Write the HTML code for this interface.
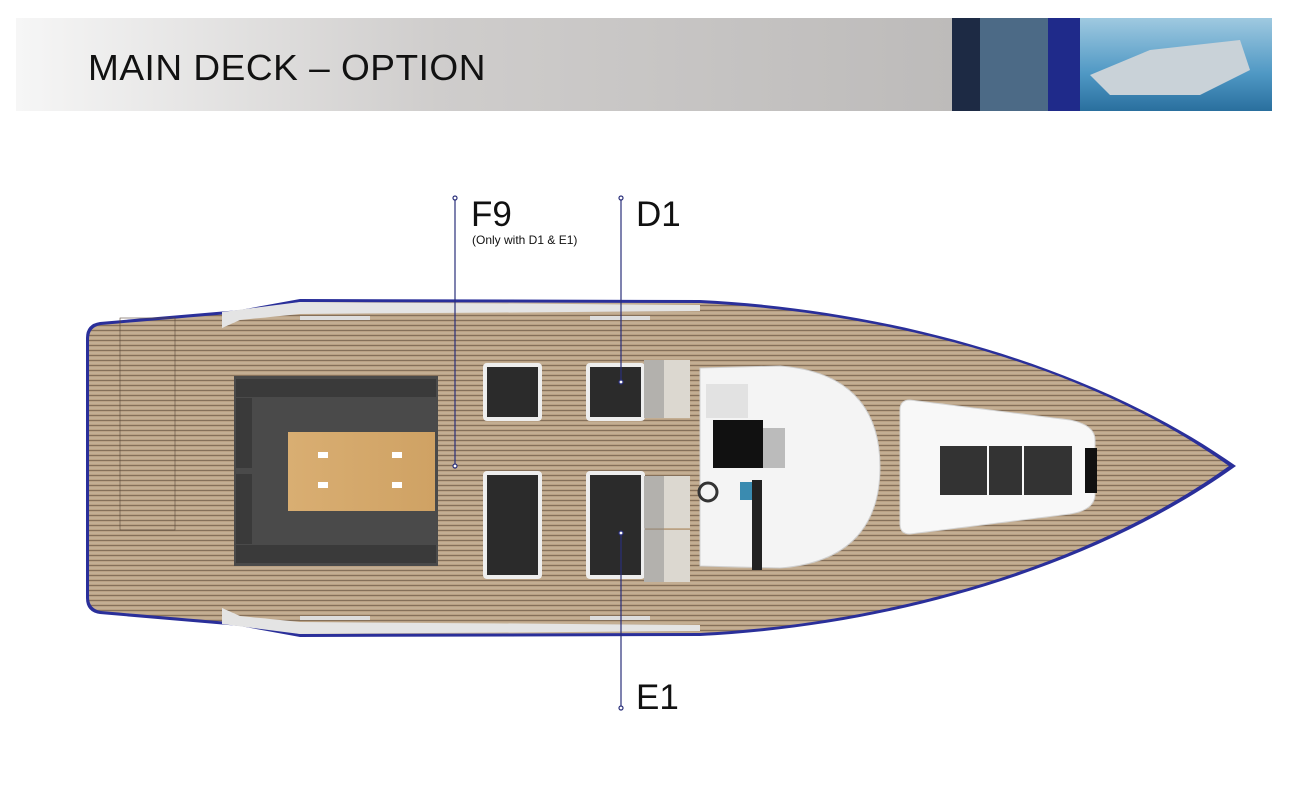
<!DOCTYPE html>
<html><head><meta charset="utf-8"><style>
html,body{margin:0;padding:0;background:#fff;width:1290px;height:800px;overflow:hidden}
</style></head><body>
<svg width="1290" height="800" viewBox="0 0 1290 800" xmlns="http://www.w3.org/2000/svg">
<defs>
<linearGradient id="hdr" x1="0" x2="1">
<stop offset="0" stop-color="#f6f6f6"/><stop offset="0.45" stop-color="#cfcdcc"/><stop offset="1" stop-color="#bdbbba"/>
</linearGradient>
<linearGradient id="sea" x1="0" y1="0" x2="0" y2="1">
<stop offset="0" stop-color="#9fc9e0"/><stop offset="0.6" stop-color="#4f98c4"/><stop offset="1" stop-color="#2a6f9e"/>
</linearGradient>
<pattern id="wood" width="10" height="5" patternUnits="userSpaceOnUse">
<rect width="10" height="5" fill="#b9a184"/>
<rect y="0" width="10" height="1" fill="#85705a"/>
<rect y="2.5" width="10" height="1" fill="#cdbba2"/>
</pattern>
<linearGradient id="tbl" x1="0" x2="1"><stop offset="0" stop-color="#d9ae72"/><stop offset="1" stop-color="#cfa264"/></linearGradient>
</defs>
<!-- header -->
<rect x="16" y="18" width="936" height="93" fill="url(#hdr)"/>
<rect x="952" y="18" width="128" height="93" fill="#1d2a44"/>
<rect x="980" y="18" width="70" height="93" fill="#4c6a86"/>
<rect x="1048" y="18" width="32" height="93" fill="#1f2a8a"/>
<rect x="1080" y="18" width="192" height="93" fill="url(#sea)"/>
<path d="M1090 75 L1150 50 L1240 40 L1250 70 L1200 95 L1110 95 Z" fill="#c9d2d8"/>
<text x="88" y="80" font-family="Liberation Sans, sans-serif" font-size="36" fill="#111" letter-spacing="0.5" textLength="398" lengthAdjust="spacingAndGlyphs">MAIN DECK – OPTION</text>

<!-- hull -->
<path d="M100 322 L240 310 L300 299 L700 300 C900 310 1100 370 1236 466 C1100 564 900 626 700 636 L300 637 L240 626 L100 614 Q86 612 86 598 L86 338 Q86 324 100 322 Z" fill="#2a2f9a"/>
<path d="M101 325 L240 313 L300 302 L700 303 C900 313 1097 371 1229 466 C1097 561 900 623 700 633 L300 634 L240 623 L101 611 Q89 609 89 597 L89 339 Q89 327 101 325 Z" fill="url(#wood)"/>
<!-- side rails -->
<path d="M222 312 L300 302 L700 305 L700 311 L300 314 L240 320 L222 328 Z" fill="#e4e4e4"/>
<path d="M222 624 L300 634 L700 631 L700 625 L300 622 L240 616 L222 608 Z" fill="#e4e4e4"/>
<rect x="300" y="316" width="70" height="4" fill="#ddd"/><rect x="590" y="316" width="60" height="4" fill="#ddd"/>
<rect x="300" y="616" width="70" height="4" fill="#ddd"/><rect x="590" y="616" width="60" height="4" fill="#ddd"/>
<!-- aft lines -->
<rect x="120" y="318" width="55" height="212" fill="none" stroke="#5a4a3a" stroke-width="0.6"/>
<!-- sofa -->
<rect x="234" y="376" width="204" height="190" fill="#4a4a4a"/>
<rect x="236" y="379" width="200" height="18" fill="#3a3a3a"/>
<rect x="236" y="545" width="200" height="18" fill="#3a3a3a"/>
<rect x="236" y="398" width="16" height="70" fill="#3a3a3a"/>
<rect x="236" y="474" width="16" height="70" fill="#3a3a3a"/>
<rect x="288" y="432" width="147" height="79" fill="url(#tbl)"/>
<rect x="318" y="452" width="10" height="6" fill="#fff"/><rect x="392" y="452" width="10" height="6" fill="#fff"/>
<rect x="318" y="482" width="10" height="6" fill="#fff"/><rect x="392" y="482" width="10" height="6" fill="#fff"/>
<!-- tables -->
<rect x="483" y="363" width="59" height="58" rx="4" fill="#eee"/><rect x="487" y="367" width="51" height="50" fill="#2b2b2b"/>
<rect x="586" y="363" width="59" height="58" rx="4" fill="#eee"/><rect x="590" y="367" width="51" height="50" fill="#2b2b2b"/>
<rect x="483" y="471" width="59" height="108" rx="4" fill="#eee"/><rect x="487" y="475" width="51" height="100" fill="#2b2b2b"/>
<rect x="586" y="471" width="59" height="108" rx="4" fill="#eee"/><rect x="590" y="475" width="51" height="100" fill="#2b2b2b"/>
<!-- seats -->
<rect x="644" y="360" width="46" height="58" fill="#dcd8d0"/><rect x="644" y="360" width="20" height="58" fill="#8a8a8a" opacity="0.5"/>
<rect x="644" y="476" width="46" height="52" fill="#dcd8d0"/><rect x="644" y="530" width="46" height="52" fill="#dcd8d0"/>
<rect x="644" y="476" width="20" height="106" fill="#8a8a8a" opacity="0.5"/>
<!-- console / cabin top -->
<path d="M700 368 L780 366 C860 372 880 420 880 467 C880 514 860 562 780 568 L700 566 Z" fill="#f4f4f4" stroke="#d0d0d0"/>
<rect x="713" y="420" width="50" height="48" fill="#111"/>
<rect x="763" y="428" width="22" height="40" fill="#bbb"/>
<rect x="706" y="384" width="42" height="34" fill="#e2e2e2"/>
<circle cx="708" cy="492" r="9" fill="none" stroke="#333" stroke-width="3"/>
<rect x="740" y="482" width="12" height="18" fill="#3a8bb0"/>
<rect x="752" y="480" width="10" height="90" fill="#222"/>
<path d="M910 400 L1070 420 Q1095 425 1095 440 L1095 494 Q1095 510 1070 514 L910 534 Q900 534 900 524 L900 410 Q900 400 910 400 Z" fill="#f8f8f8" stroke="#d5d5d5"/>
<rect x="940" y="446" width="47" height="49" fill="#333"/>
<rect x="989" y="446" width="33" height="49" fill="#333"/>
<rect x="1024" y="446" width="48" height="49" fill="#333"/>
<rect x="1085" y="448" width="12" height="45" fill="#111"/>

<!-- leader lines -->
<g stroke="#2a2f7a" stroke-width="1.2" fill="#fff">
<line x1="455" y1="198" x2="455" y2="466"/>
<line x1="621" y1="198" x2="621" y2="382"/>
<line x1="621" y1="533" x2="621" y2="708"/>
<circle cx="455" cy="198" r="2"/><circle cx="455" cy="466" r="2"/>
<circle cx="621" cy="198" r="2"/><circle cx="621" cy="382" r="2"/>
<circle cx="621" cy="533" r="2"/><circle cx="621" cy="708" r="2"/>
</g>
<g font-family="Liberation Sans, sans-serif" fill="#111">
<text x="471" y="226" font-size="35">F9</text>
<text x="472" y="244" font-size="12">(Only with D1 &amp; E1)</text>
<text x="636" y="226" font-size="35">D1</text>
<text x="636" y="709" font-size="35">E1</text>
</g>
</svg>
</body></html>
